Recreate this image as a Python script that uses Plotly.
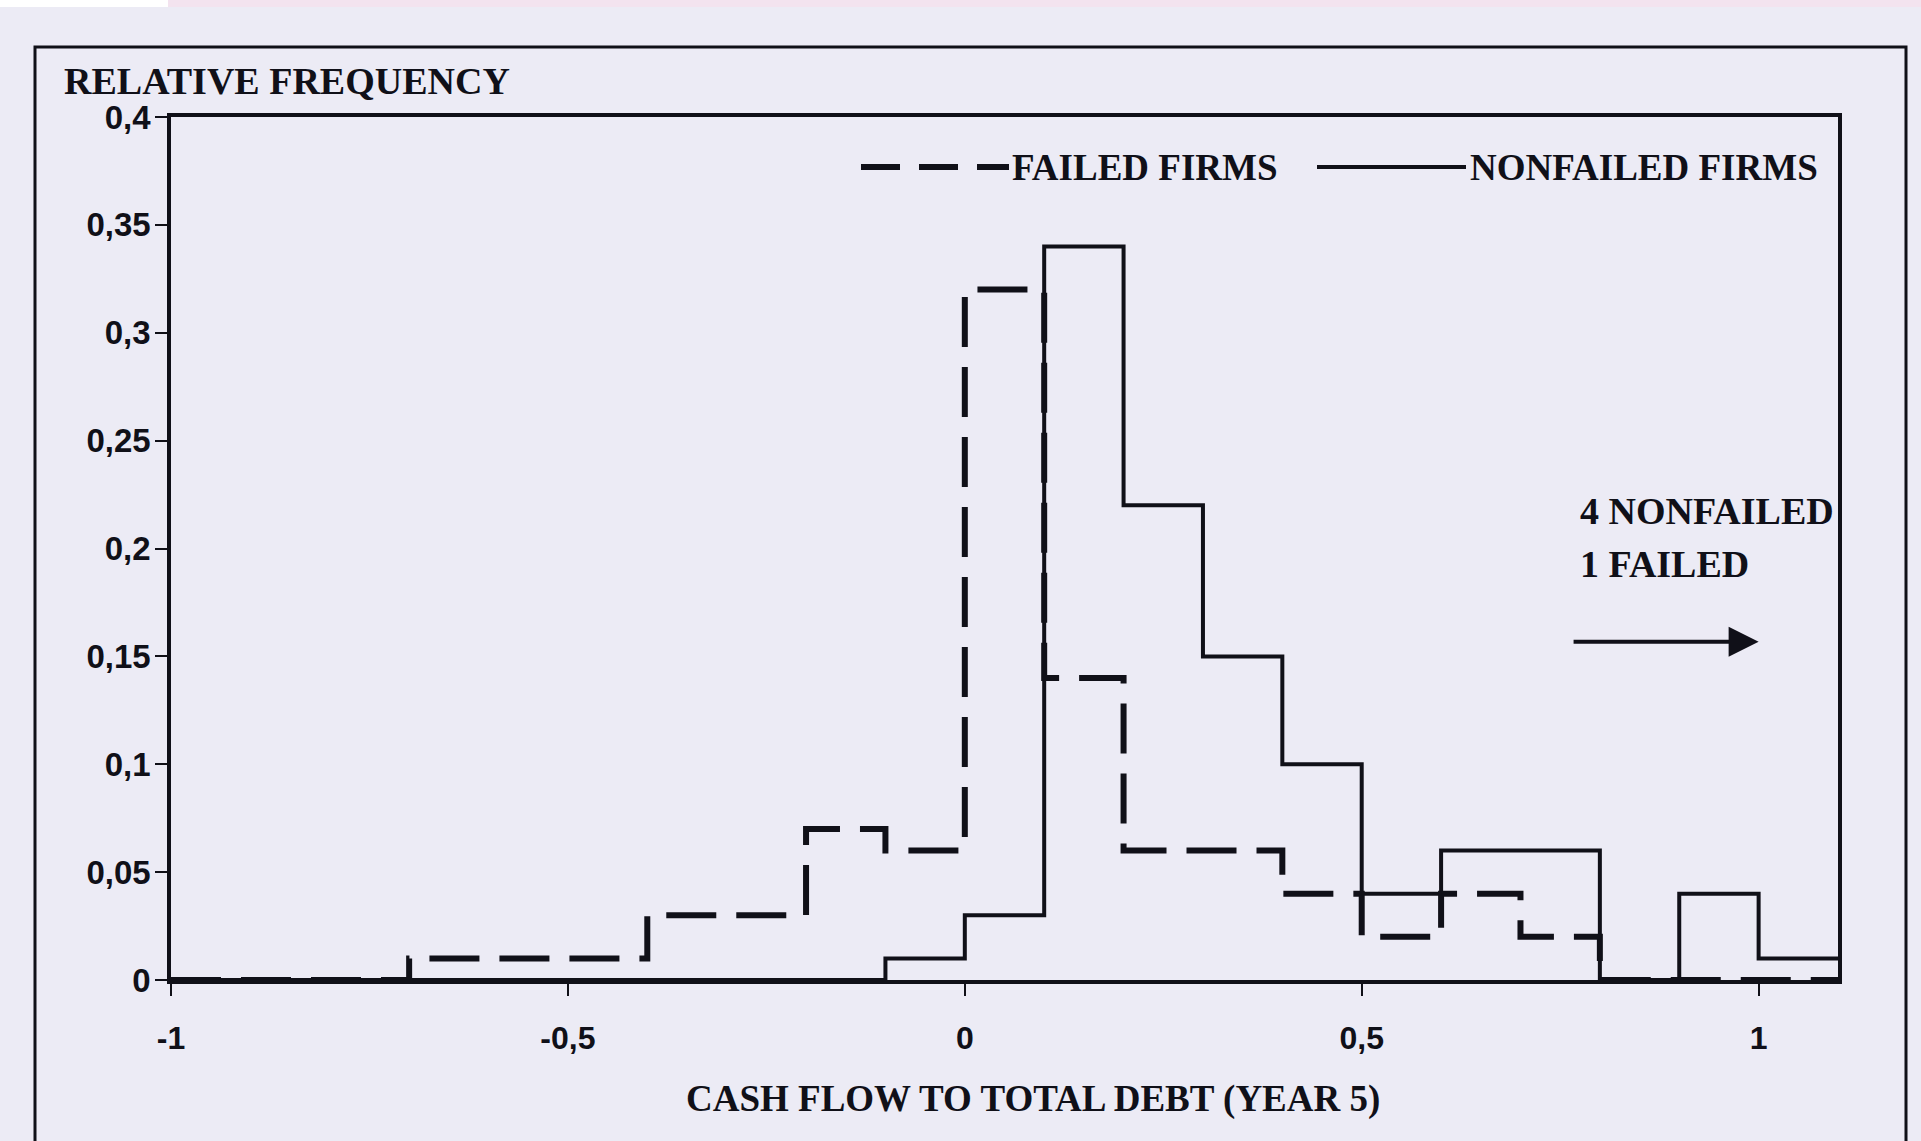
import plotly.graph_objects as go

# ---- data (bin edges and relative frequencies) ----
bin_edges = [-1.0, -0.9, -0.8, -0.7, -0.6, -0.5, -0.4, -0.3, -0.2, -0.1, 0.0,
             0.1, 0.2, 0.3, 0.4, 0.5, 0.6, 0.7, 0.8, 0.9, 1.0, 1.1]
failed = [0.0, 0.0, 0.0, 0.01, 0.01, 0.01, 0.03, 0.03, 0.07, 0.06, 0.32,
          0.14, 0.06, 0.06, 0.04, 0.02, 0.04, 0.02, 0.0, 0.0, 0.0]
nonfailed = [0.0, 0.0, 0.0, 0.0, 0.0, 0.0, 0.0, 0.0, 0.0, 0.01, 0.03,
             0.34, 0.22, 0.15, 0.10, 0.04, 0.06, 0.06, 0.0, 0.04, 0.01]
x_ticks = [-1, -0.5, 0, 0.5, 1]
x_ticktext = ["-1", "-0,5", "0", "0,5", "1"]
y_ticks = [0, 0.05, 0.1, 0.15, 0.2, 0.25, 0.3, 0.35, 0.4]
y_ticktext = ["0", "0,05", "0,1", "0,15", "0,2", "0,25", "0,3", "0,35", "0,4"]

W, H = 1921, 1141
L, R, T, B = 171, 83, 117, 161
PW, PH = W - L - R, H - T - B

def px(x):
    return (x - L) / PW

def py(y):
    return (H - B - y) / PH

BG = "#ecebf5"
INK = "#101018"
SERIF = "Liberation Serif, Times New Roman, serif"
SANS = "Liberation Sans, Arial, sans-serif"

fig = go.Figure()

def step_xy(vals):
    xs, ys = [], []
    for i, v in enumerate(vals):
        xs += [bin_edges[i], bin_edges[i + 1]]
        ys += [v, v]
    return xs, ys

fx, fy = step_xy(failed)
nx, ny = step_xy(nonfailed)

fig.add_trace(go.Scatter(x=nx, y=ny, mode="lines", name="NONFAILED FIRMS",
                         line=dict(color=INK, width=4), showlegend=False))
fig.add_trace(go.Scatter(x=fx, y=fy, mode="lines", name="FAILED FIRMS",
                         line=dict(color=INK, width=6, dash="50px,20px"),
                         showlegend=False))

shapes = []
# pink strip at top of the scan
shapes.append(dict(type="rect", xref="paper", yref="paper",
                   x0=px(168), x1=px(W + 5), y0=py(7), y1=py(-5),
                   fillcolor="#f3e3ef", line=dict(width=0), layer="below"))
shapes.append(dict(type="rect", xref="paper", yref="paper",
                   x0=px(-5), x1=px(168), y0=py(7), y1=py(-5),
                   fillcolor="#ffffff", line=dict(width=0), layer="below"))
# outer frame
shapes.append(dict(type="rect", xref="paper", yref="paper",
                   x0=px(35), x1=px(1906), y0=py(1170), y1=py(47),
                   line=dict(color=INK, width=3), fillcolor="rgba(0,0,0,0)"))
# legend samples
shapes.append(dict(type="line", xref="paper", yref="paper",
                   x0=px(861), x1=px(1009), y0=py(167), y1=py(167),
                   line=dict(color=INK, width=6, dash="39px,19px")))
shapes.append(dict(type="line", xref="paper", yref="paper",
                   x0=px(1317), x1=px(1466), y0=py(167), y1=py(167),
                   line=dict(color=INK, width=4)))

annotations = [
    dict(text="RELATIVE FREQUENCY", xref="paper", yref="paper",
         x=px(62), y=py(81), xanchor="left", yanchor="middle", showarrow=False,
         font=dict(family=SERIF, size=38, color=INK, weight="bold")),
    dict(text="FAILED FIRMS", xref="paper", yref="paper",
         x=px(1010), y=py(167), xanchor="left", yanchor="middle", showarrow=False,
         font=dict(family=SERIF, size=37, color=INK, weight="bold")),
    dict(text="NONFAILED FIRMS", xref="paper", yref="paper",
         x=px(1468), y=py(167), xanchor="left", yanchor="middle", showarrow=False,
         font=dict(family=SERIF, size=37, color=INK, weight="bold")),
    dict(text="4 NONFAILED", xref="x", yref="y", x=0.773, y=0.2172,
         xanchor="left", yanchor="middle", showarrow=False,
         font=dict(family=SERIF, size=38, color=INK, weight="bold")),
    dict(text="1 FAILED", xref="x", yref="y", x=0.773, y=0.1926,
         xanchor="left", yanchor="middle", showarrow=False,
         font=dict(family=SERIF, size=38, color=INK, weight="bold")),
    dict(text="", xref="x", yref="y", x=1.0, y=0.1568,
         axref="x", ayref="y", ax=0.765, ay=0.1568,
         showarrow=True, arrowhead=2, arrowsize=1.5, arrowwidth=4,
         arrowcolor=INK),
    dict(text="CASH FLOW TO TOTAL DEBT (YEAR 5)", xref="paper", yref="paper",
         x=px(1033), y=py(1099), xanchor="center", yanchor="middle",
         showarrow=False,
         font=dict(family=SERIF, size=37, color=INK, weight="bold")),
]

fig.update_layout(
    width=W, height=H,
    margin=dict(l=L, r=R, t=T, b=B, autoexpand=False),
    paper_bgcolor=BG, plot_bgcolor=BG,
    separators=", ",
    showlegend=False,
    shapes=shapes,
    annotations=annotations,
    xaxis=dict(range=[-1, 1.1], tickvals=x_ticks, ticktext=x_ticktext,
               ticks="outside", ticklen=12, tickwidth=2, tickcolor=INK,
               showline=True, linecolor=INK, linewidth=3.5, mirror=True,
               showgrid=False, zeroline=False, ticklabelstandoff=15,
               tickfont=dict(family=SANS, size=32, color=INK, weight="bold")),
    yaxis=dict(range=[0, 0.4], tickvals=y_ticks, ticktext=y_ticktext,
               ticks="outside", ticklen=12, tickwidth=2, tickcolor=INK,
               showline=True, linecolor=INK, linewidth=3.5, mirror=True,
               showgrid=False, zeroline=False, ticklabelstandoff=-2,
               tickfont=dict(family=SANS, size=33, color=INK, weight="bold")),
)

fig.write_html("out.html", config={"displayModeBar": False},
               post_script="document.body.style.margin='0';"
                           "document.body.style.overflow='hidden';")
